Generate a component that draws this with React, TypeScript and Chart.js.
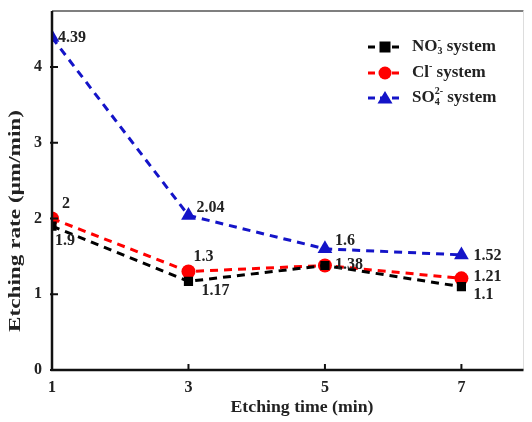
import React, { useEffect, useRef } from "react";
import { Chart, registerables } from "chart.js";

Chart.register(...registerables);

const times = [1, 3, 5, 7];
const no3Values = [1.9, 1.17, 1.38, 1.1];
const clValues = [2.0, 1.3, 1.38, 1.21];
const so4Values = [4.39, 2.04, 1.6, 1.52];
const no3Labels = ["1.9", "1.17", "", "1.1"];
const clLabels = ["2", "1.3", "1.38", "1.21"];
const so4Labels = ["4.39", "2.04", "1.6", "1.52"];
const xTicks = [1, 3, 5, 7];
const yTicks = [0, 1, 2, 3, 4];
const xTitle = "Etching time (min)";
const yTitle = "Etching rate (μm/min)";

const BLACK = "#000000";
const RED = "#ff0000";
const BLUE = "#1414c8";
const SERIF = "'Liberation Serif', 'Times New Roman', serif";

const labelOffsets: Record<string, [number, number][]> = {
  so4: [[6, 0], [8, -8], [10, -8], [12, 1]],
  cl: [[10, -15], [5, -15], [10, -1], [12, -1]],
  no3: [[3, 15], [13, 9], [0, 0], [12, 8]],
};

function fitText(ctx: CanvasRenderingContext2D, txt: string, x: number, y: number, w: number) {
  const m = ctx.measureText(txt).width;
  ctx.save();
  ctx.translate(x, y);
  ctx.scale(w / m, 1);
  ctx.fillText(txt, 0, 0);
  ctx.restore();
}

const overlay = {
  id: "overlay",
  afterDraw(chart: any) {
    const ctx = chart.ctx as CanvasRenderingContext2D;
    const { left, right, top, bottom } = chart.chartArea;
    const xs = chart.scales.x;
    const ys = chart.scales.y;
    ctx.save();
    // frame top/right
    ctx.strokeStyle = "#555";
    ctx.lineWidth = 1.5;
    ctx.beginPath();
    ctx.moveTo(left, top);
    ctx.lineTo(right, top);
    ctx.stroke();
    ctx.strokeStyle = "#ddd";
    ctx.lineWidth = 1;
    ctx.beginPath();
    ctx.moveTo(right, top);
    ctx.lineTo(right, bottom);
    ctx.stroke();
    // axes
    ctx.strokeStyle = "#111";
    ctx.lineWidth = 2.5;
    ctx.beginPath();
    ctx.moveTo(left, top);
    ctx.lineTo(left, bottom);
    ctx.lineTo(right, bottom);
    ctx.stroke();
    // inner ticks
    ctx.lineWidth = 2;
    ctx.beginPath();
    xTicks.forEach((t) => {
      const px = xs.getPixelForValue(t);
      ctx.moveTo(px, bottom);
      ctx.lineTo(px, bottom - 6);
    });
    yTicks.forEach((t) => {
      const py = ys.getPixelForValue(t);
      ctx.moveTo(left - 2, py);
      ctx.lineTo(left + 6, py);
    });
    ctx.stroke();
    // tick labels
    ctx.fillStyle = "#222";
    ctx.font = `bold 16px ${SERIF}`;
    ctx.textAlign = "center";
    ctx.textBaseline = "middle";
    xTicks.forEach((t) => {
      ctx.fillText(String(t), xs.getPixelForValue(t), bottom + 18);
    });
    ctx.textAlign = "right";
    yTicks.forEach((t) => {
      ctx.fillText(String(t), left - 10, ys.getPixelForValue(t));
    });
    // titles
    ctx.textAlign = "center";
    ctx.font = `bold 16px ${SERIF}`;
    fitText(ctx, xTitle, 302, 408, 143);
    ctx.font = `bold 17px ${SERIF}`;
    ctx.save();
    ctx.translate(16, 221);
    ctx.rotate(-Math.PI / 2);
    fitText(ctx, yTitle, 0, 0, 222);
    ctx.restore();
    // data labels
    ctx.font = `bold 16px ${SERIF}`;
    ctx.fillStyle = "#222";
    ctx.textBaseline = "middle";
    ctx.textAlign = "left";
    const series: [number[], string[], string][] = [
      [so4Values, so4Labels, "so4"],
      [clValues, clLabels, "cl"],
      [no3Values, no3Labels, "no3"],
    ];
    series.forEach(([vals, labs, key]) => {
      vals.forEach((v, i) => {
        if (!labs[i]) return;
        const [dx, dy] = labelOffsets[key][i];
        ctx.fillText(labs[i], xs.getPixelForValue(times[i]) + dx, ys.getPixelForValue(v) + dy);
      });
    });
    // legend
    const rows: { color: string; shape: string; parts: [string, string][] }[] = [
      { color: BLACK, shape: "square", parts: [["n", "NO"], ["sub", "3"], ["sup", "-"], ["n", " system"]] },
      { color: RED, shape: "circle", parts: [["n", "Cl"], ["sup", "-"], ["n", " system"]] },
      { color: BLUE, shape: "triangle", parts: [["n", "SO"], ["sub", "4"], ["sup", "2-"], ["n", " system"]] },
    ];
    const rowY = [47, 73, 98];
    rows.forEach((r, i) => {
      const y = rowY[i];
      ctx.strokeStyle = r.color;
      ctx.fillStyle = r.color;
      ctx.lineWidth = 2.8;
      ctx.setLineDash([7, 5]);
      ctx.beginPath();
      ctx.moveTo(368, y);
      ctx.lineTo(402, y);
      ctx.stroke();
      ctx.setLineDash([]);
      ctx.beginPath();
      const cx = 385;
      if (r.shape === "square") ctx.rect(cx - 5.5, y - 5.5, 11, 11);
      else if (r.shape === "circle") ctx.arc(cx, y, 6.5, 0, Math.PI * 2);
      else {
        ctx.moveTo(cx, y - 7);
        ctx.lineTo(cx + 7.5, y + 5.5);
        ctx.lineTo(cx - 7.5, y + 5.5);
        ctx.closePath();
      }
      ctx.fill();
      let x = 412;
      ctx.fillStyle = "#222";
      ctx.textAlign = "left";
      ctx.textBaseline = "middle";
      let lastSubW = 0;
      r.parts.forEach(([kind, txt]) => {
        if (kind === "n") {
          ctx.font = `bold 17px ${SERIF}`;
          ctx.fillText(txt, x, y);
          x += ctx.measureText(txt).width;
          lastSubW = 0;
        } else if (kind === "sub") {
          ctx.font = `bold 10px ${SERIF}`;
          ctx.fillText(txt, x, y + 4);
          lastSubW = ctx.measureText(txt).width;
          x += lastSubW;
        } else {
          ctx.font = `bold 10px ${SERIF}`;
          const sx = lastSubW ? x - lastSubW : x;
          ctx.fillText(txt, sx, y - 7);
          x = Math.max(x, sx + ctx.measureText(txt).width);
        }
      });
    });
    ctx.restore();
  },
};

export default function App() {
  const ref = useRef<HTMLCanvasElement | null>(null);
  useEffect(() => {
    document.body.style.margin = "0";
    const ds = (label: string, vals: number[], color: string, style: string, radius: number) => ({
      label,
      data: times.map((t, i) => ({ x: t, y: vals[i] })),
      borderColor: color,
      backgroundColor: color,
      borderWidth: 3,
      borderDash: [8, 6],
      pointStyle: style,
      pointRadius: radius,
      pointBorderWidth: 0,
      pointBackgroundColor: color,
      tension: 0,
    });
    const chart = new Chart(ref.current as HTMLCanvasElement, {
      type: "line",
      data: {
        datasets: [
          ds("NO3- system", no3Values, BLACK, "rect", 6.5),
          ds("Cl- system", clValues, RED, "circle", 7),
          ds("SO42- system", so4Values, BLUE, "triangle", 8.5),
        ],
      },
      options: {
        responsive: false,
        animation: false,
        events: [],
        layout: { padding: { left: 52, right: 2, top: 11, bottom: 52 } },
        plugins: { legend: { display: false }, tooltip: { enabled: false } },
        scales: {
          x: { type: "linear", min: 1, max: 7.91, display: false },
          y: { type: "linear", min: 0, max: 4.74, display: false },
        },
      },
      plugins: [overlay],
    });
    return () => chart.destroy();
  }, []);
  return (
    <div style={{ width: 532, height: 422, background: "#fff" }}>
      <canvas ref={ref} width={532} height={422} />
    </div>
  );
}
